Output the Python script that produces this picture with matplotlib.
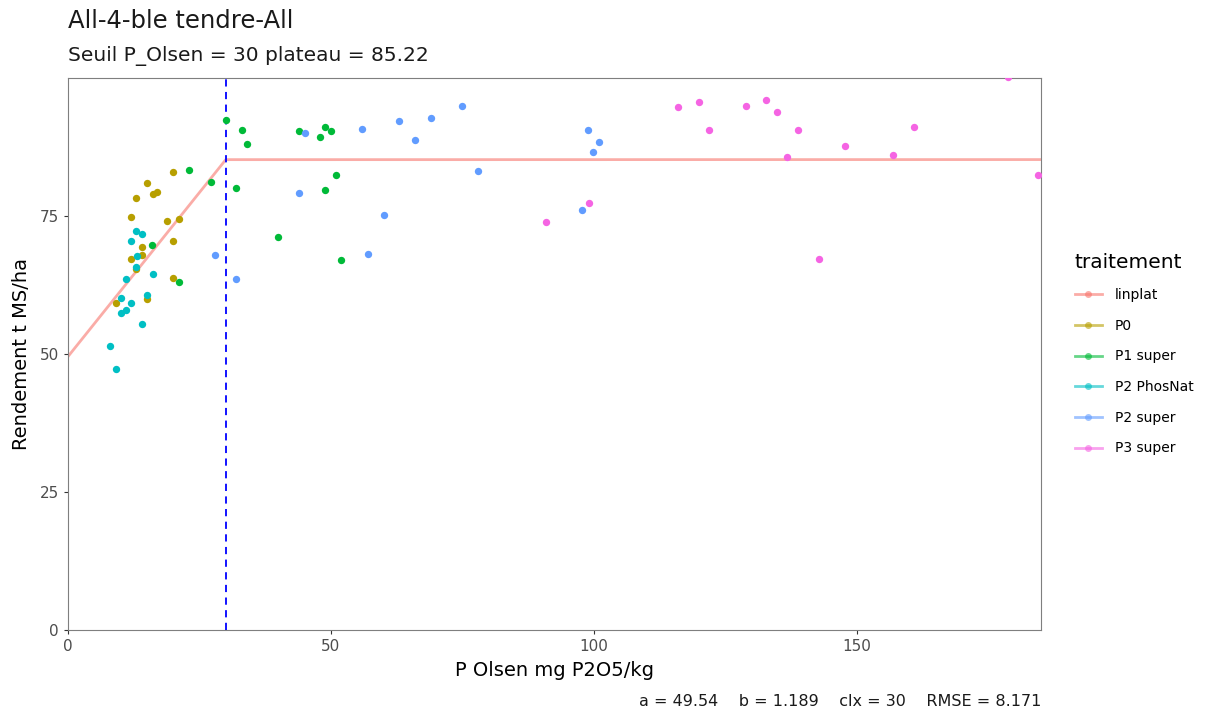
import matplotlib
matplotlib.use("Agg")
import matplotlib.pyplot as plt
from matplotlib.lines import Line2D

plt.rcParams['font.family'] = ['DejaVu Sans']

# data
p0_x = [19.9, 15.1, 13.0, 16.1, 17.0, 12.0, 18.9, 21.1, 20.0, 14.0, 12.0, 14.0, 13.0, 20.0, 9.1, 15.1]
p0_y = [83.0, 81.0, 78.2, 79.0, 79.3, 74.9, 74.1, 74.5, 70.5, 69.4, 67.2, 67.9, 65.4, 63.8, 59.2, 60.0]

p1_x = [23.0, 27.1, 32.0, 16.0, 21.1, 30.0, 33.0, 34.0, 39.9, 43.9, 48.9, 50.1, 48.0, 50.9, 48.9, 52.0]
p1_y = [83.3, 81.2, 80.0, 69.8, 63.1, 92.4, 90.5, 88.0, 71.2, 90.4, 91.2, 90.4, 89.4, 82.4, 79.7, 67.0]

p2n_x = [13.0, 14.1, 12.0, 13.2, 13.0, 16.1, 11.0, 15.1, 10.0, 12.0, 11.0, 10.0, 14.0, 8.0, 9.1]
p2n_y = [72.2, 71.8, 70.5, 67.8, 65.7, 64.5, 63.5, 60.6, 60.1, 59.2, 57.9, 57.4, 55.4, 51.4, 47.2]

p2s_x = [27.9, 32.0, 45.0, 43.9, 55.9, 57.0, 63.0, 69.0, 74.9, 65.9, 78.0, 60.0, 98.9, 100.9, 99.9, 97.8]
p2s_y = [67.9, 63.6, 90.0, 79.2, 90.7, 68.2, 92.2, 92.7, 94.9, 88.7, 83.2, 75.1, 90.6, 88.4, 86.6, 76.0]

p3_x = [99.0, 90.9, 115.9, 119.9, 121.9, 128.9, 132.8, 134.8, 138.8, 136.8, 147.8, 156.8, 160.9, 142.8, 178.7, 184.5]
p3_y = [77.4, 74.0, 94.7, 95.7, 90.5, 94.9, 96.0, 93.8, 90.5, 85.6, 87.7, 86.1, 91.1, 67.2, 100.1, 82.4]

a = 49.54
b = 1.189
clx = 30
plateau = 85.22
xmax = 185

groups = ["P0", "P1 super", "P2 PhosNat", "P2 super", "P3 super"]
colors = ["#B79F00", "#00BA38", "#00BFC4", "#619CFF", "#F564E3"]
xs = [p0_x, p1_x, p2n_x, p2s_x, p3_x]
ys = [p0_y, p1_y, p2n_y, p2s_y, p3_y]

fig = plt.figure(figsize=(12.09, 7.11), dpi=100)
ax = fig.add_axes([68/1209, 81/711, (1041-68)/1209, (630-78)/711])

ax.plot([0, clx, xmax], [a, a + b*clx, plateau], color="#F8766D", alpha=0.6, lw=2, zorder=2)
ax.axvline(clx, color="blue", ls=(0, (4, 3)), lw=1.3, zorder=3)
for x, y, c in zip(xs, ys, colors):
    ax.scatter(x, y, s=28, color=c, zorder=4, linewidths=0, clip_on=True)

ax.set_xlim(0, xmax)
ax.set_ylim(0, 100)
ax.set_xticks([0, 50, 100, 150])
ax.set_yticks([0, 25, 50, 75])
ax.tick_params(colors="#333333", labelcolor="#4D4D4D", labelsize=11, length=3)
for s in ax.spines.values():
    s.set_color("#7F7F7F")
ax.set_xlabel("P Olsen mg P2O5/kg", fontsize=14, labelpad=5)
ax.set_ylabel("Rendement t MS/ha", fontsize=14, labelpad=6)

fig.text(68/1209, 1 - 21/711, "All-4-ble tendre-All", fontsize=17.5, va="center", ha="left", color="#1A1A1A")
fig.text(68/1209, 1 - 56/711, "Seuil P_Olsen = 30 plateau = 85.22", fontsize=14.5, va="center", ha="left", color="#1A1A1A")
fig.text(1041/1209, 1 - 702/711, "a = 49.54    b = 1.189    clx = 30    RMSE = 8.171",
         fontsize=11.5, va="center", ha="right", color="#1A1A1A")

handles = [Line2D([], [], color="#F8766D", alpha=0.6, lw=2, marker="o", markersize=5,
                  markerfacecolor="#F8766D", markeredgewidth=0)]
for c in colors:
    handles.append(Line2D([], [], color=c, alpha=0.6, lw=2, marker="o", markersize=5,
                          markerfacecolor=c, markeredgewidth=0))
labels = ["linplat"] + groups
leg = fig.legend(handles, labels, title="traitement", loc="upper left",
                 bbox_to_anchor=(1062/1209, 1 - 240/711), frameon=False,
                 fontsize=10, title_fontsize=14.5, handlelength=2.0,
                 labelspacing=1.2, handletextpad=0.9)
leg._legend_box.align = "left"

fig.savefig("out.png", dpi=100)
